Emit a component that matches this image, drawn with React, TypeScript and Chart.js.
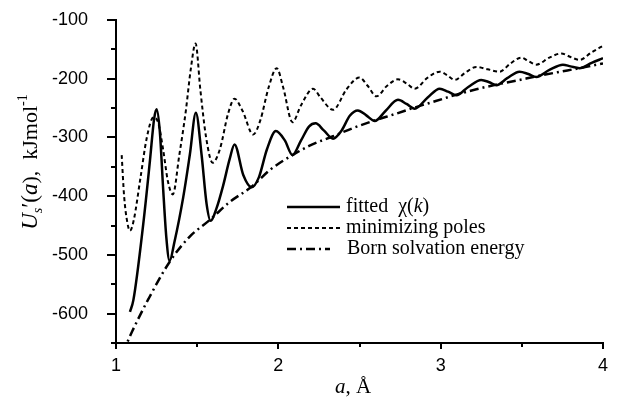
import React, { useEffect, useRef } from "react";
import { Chart, registerables } from "chart.js";

Chart.register(...registerables);

// ---- data ----
const fittedA = [1.086, 1.107, 1.168, 1.209, 1.235, 1.25, 1.27, 1.291, 1.31, 1.33, 1.36, 1.414, 1.455, 1.492, 1.527, 1.558, 1.583, 1.62, 1.66, 1.70, 1.73, 1.784, 1.835, 1.88, 1.93, 1.985, 2.04, 2.087, 2.14, 2.19, 2.23, 2.28, 2.337, 2.39, 2.44, 2.49, 2.54, 2.594, 2.66, 2.737, 2.79, 2.84, 2.92, 2.994, 3.045, 3.097, 3.17, 3.25, 3.30, 3.343, 3.41, 3.486, 3.54, 3.589, 3.67, 3.753, 3.80, 3.855, 3.93, 4.0];
const fittedU = [-597, -577, -447, -340, -268, -252, -290, -390, -470, -510, -478, -402, -329, -258, -329, -413, -442, -420, -382, -337, -312, -364, -385, -368, -320, -289, -305, -330, -305, -281, -276, -288, -302, -288, -263, -254, -262, -272, -255, -236, -243, -251, -232, -217, -222, -228, -214, -202, -206, -211, -199, -188, -192, -197, -185, -176, -179, -182, -173, -165];

const polesA = [1.035, 1.05, 1.07, 1.086, 1.11, 1.15, 1.19, 1.23, 1.26, 1.29, 1.32, 1.35, 1.39, 1.43, 1.46, 1.49, 1.52, 1.555, 1.595, 1.64, 1.69, 1.73, 1.78, 1.845, 1.89, 1.94, 1.99, 2.03, 2.087, 2.14, 2.214, 2.26, 2.337, 2.42, 2.50, 2.55, 2.604, 2.67, 2.737, 2.79, 2.84, 2.92, 2.994, 3.04, 3.086, 3.15, 3.22, 3.29, 3.363, 3.43, 3.497, 3.54, 3.589, 3.67, 3.743, 3.80, 3.855, 3.93, 4.0];
const polesU = [-330, -400, -445, -459, -440, -370, -300, -266, -275, -320, -375, -397, -330, -255, -185, -140, -220, -300, -343, -320, -260, -234, -255, -295, -270, -215, -182, -215, -274, -245, -217, -232, -253, -218, -198, -212, -230, -212, -201, -208, -217, -198, -188, -194, -202, -190, -180, -184, -188, -174, -164, -170, -176, -164, -157, -163, -168, -155, -144];

const bornA = [1.04, 1.068, 1.10, 1.20, 1.33, 1.45, 1.58, 1.70, 1.835, 1.95, 2.087, 2.20, 2.337, 2.46, 2.594, 2.72, 2.84, 2.97, 3.097, 3.22, 3.343, 3.47, 3.589, 3.72, 3.855, 4.0];
const bornU = [-668, -650, -630, -575, -512, -470, -440, -410, -384, -355, -330, -313, -298, -284, -271, -260, -249, -238, -227, -218, -210, -203, -196, -189, -182, -174];

const xMin = 1;
const xMax = 4;
const yMin = -650;
const yMax = -100;

const legendLabels = ["fitted", "minimizing poles", "Born solvation energy"];

const SERIF = '"Liberation Serif", "Times New Roman", serif';
const SANS = '"Liberation Sans", Arial, sans-serif';

function pts(a: number[], u: number[]) {
  return a.map((x, i) => ({ x, y: u[i] }));
}

type Piece = { t: string; italic?: boolean; size: number; dy?: number };

function drawPieces(ctx: CanvasRenderingContext2D, pieces: Piece[], x: number, y: number, align: "center" | "left") {
  let total = 0;
  const widths = pieces.map((p) => {
    ctx.font = `${p.italic ? "italic " : ""}${p.size}px ${SERIF}`;
    const w = ctx.measureText(p.t).width;
    total += w;
    return w;
  });
  let cx = align === "center" ? x - total / 2 : x;
  pieces.forEach((p, i) => {
    ctx.font = `${p.italic ? "italic " : ""}${p.size}px ${SERIF}`;
    ctx.fillText(p.t, cx, y + (p.dy || 0));
    cx += widths[i];
  });
}

const overlay = {
  id: "overlay",
  afterDraw(chart: any) {
    const ctx: CanvasRenderingContext2D = chart.ctx;
    const xs = chart.scales.x;
    const ys = chart.scales.y;
    const area = chart.chartArea;
    ctx.save();
    ctx.strokeStyle = "#000";
    ctx.fillStyle = "#000";
    ctx.lineWidth = 2;
    // y ticks (outward)
    ys.ticks.forEach((t: any) => {
      const p = Math.round(ys.getPixelForValue(t.value));
      const len = t.value % 100 === 0 ? 9 : 5;
      ctx.beginPath();
      ctx.moveTo(area.left - len, p);
      ctx.lineTo(area.left, p);
      ctx.stroke();
    });
    // x ticks (outward)
    xs.ticks.forEach((t: any) => {
      const p = Math.round(xs.getPixelForValue(t.value));
      const len = Number.isInteger(t.value) ? 6 : 4;
      ctx.beginPath();
      ctx.moveTo(p, area.bottom);
      ctx.lineTo(p, area.bottom + len);
      ctx.stroke();
    });

    // legend
    const lx0 = 287;
    const rows = [207, 228, 249];
    const dashes: number[][] = [[], [4, 3], [9, 4, 2, 4]];
    const lens = [53, 53, 43];
    const widths = [2.5, 2, 2.5];
    rows.forEach((ry, i) => {
      ctx.setLineDash(dashes[i]);
      ctx.lineWidth = widths[i];
      ctx.beginPath();
      ctx.moveTo(lx0, ry);
      ctx.lineTo(lx0 + lens[i], ry);
      ctx.stroke();
    });
    ctx.setLineDash([]);
    ctx.textBaseline = "middle";
    ctx.textAlign = "left";
    const tx = 346;
    drawPieces(ctx, [
      { t: legendLabels[0] + "  ", size: 20 },
      { t: "\u03C7(", size: 20 },
      { t: "k", size: 20, italic: true },
      { t: ")", size: 20 },
    ], tx, rows[0], "left");
    drawPieces(ctx, [{ t: legendLabels[1], size: 20 }], tx, rows[1], "left");
    drawPieces(ctx, [{ t: legendLabels[2], size: 20 }], tx + 1, rows[2], "left");

    // x title
    ctx.textBaseline = "alphabetic";
    drawPieces(ctx, [
      { t: "a", size: 21, italic: true },
      { t: ", \u00C5", size: 21 },
    ], 353, 393, "center");

    // y title (rotated)
    ctx.save();
    ctx.translate(37, 162);
    ctx.rotate(-Math.PI / 2);
    drawPieces(ctx, [
      { t: "U", size: 23, italic: true },
      { t: "s", size: 14, italic: true, dy: 5 },
      { t: "\u2032(", size: 23 },
      { t: "a", size: 23, italic: true },
      { t: "),  kJmol", size: 22 },
      { t: "-1", size: 14, dy: -10 },
    ], 0, 0, "center");
    ctx.restore();
    ctx.restore();
  },
};

export default function App() {
  const ref = useRef<HTMLCanvasElement | null>(null);
  useEffect(() => {
    if (!ref.current) return;
    const tickFont = { family: SANS, size: 18 };
    const chart = new Chart(ref.current, {
      type: "line",
      data: {
        datasets: [
          {
            label: "fitted χ(k)",
            data: pts(fittedA, fittedU),
            borderColor: "#000",
            borderWidth: 2.5,
            pointRadius: 0,
            cubicInterpolationMode: "monotone",
            fill: false,
          },
          {
            label: "minimizing poles",
            data: pts(polesA, polesU),
            borderColor: "#000",
            borderWidth: 2,
            borderDash: [4, 3],
            pointRadius: 0,
            cubicInterpolationMode: "monotone",
            fill: false,
          },
          {
            label: "Born solvation energy",
            data: pts(bornA, bornU),
            borderColor: "#000",
            borderWidth: 2.5,
            borderDash: [9, 4, 2, 4],
            pointRadius: 0,
            cubicInterpolationMode: "monotone",
            fill: false,
          },
        ],
      },
      options: {
        responsive: false,
        animation: false,
        layout: { padding: { left: 0, right: 16, top: 20, bottom: 0 } },
        plugins: { legend: { display: false }, tooltip: { enabled: false } },
        scales: {
          x: {
            type: "linear",
            min: xMin,
            max: xMax,
            grid: { display: false, drawTicks: true, tickLength: 9 },
            border: { display: true, color: "#000", width: 2 },
            ticks: {
              stepSize: 0.5,
              autoSkip: false,
              maxRotation: 0,
              padding: 3,
              color: "#000",
              font: tickFont,
              callback: (v: any) => (Number.isInteger(v) ? String(v) : ""),
            },
            afterFit: (s: any) => {
              s.height = 59;
            },
          },
          y: {
            type: "linear",
            min: yMin,
            max: yMax,
            grid: { display: false, drawTicks: true, tickLength: 22 },
            border: { display: true, color: "#000", width: 2 },
            ticks: {
              stepSize: 50,
              autoSkip: false,
              padding: 6,
              color: "#000",
              font: tickFont,
              callback: (v: any) => (v % 100 === 0 ? String(v) : ""),
            },
            afterFit: (s: any) => {
              s.width = 116;
            },
          },
        },
      },
      plugins: [overlay],
    } as any);
    return () => chart.destroy();
  }, []);
  return (
    <div style={{ position: "fixed", left: 0, top: 0, width: 619, height: 402, background: "#fff" }}>
      <canvas ref={ref} width={619} height={402} />
    </div>
  );
}
